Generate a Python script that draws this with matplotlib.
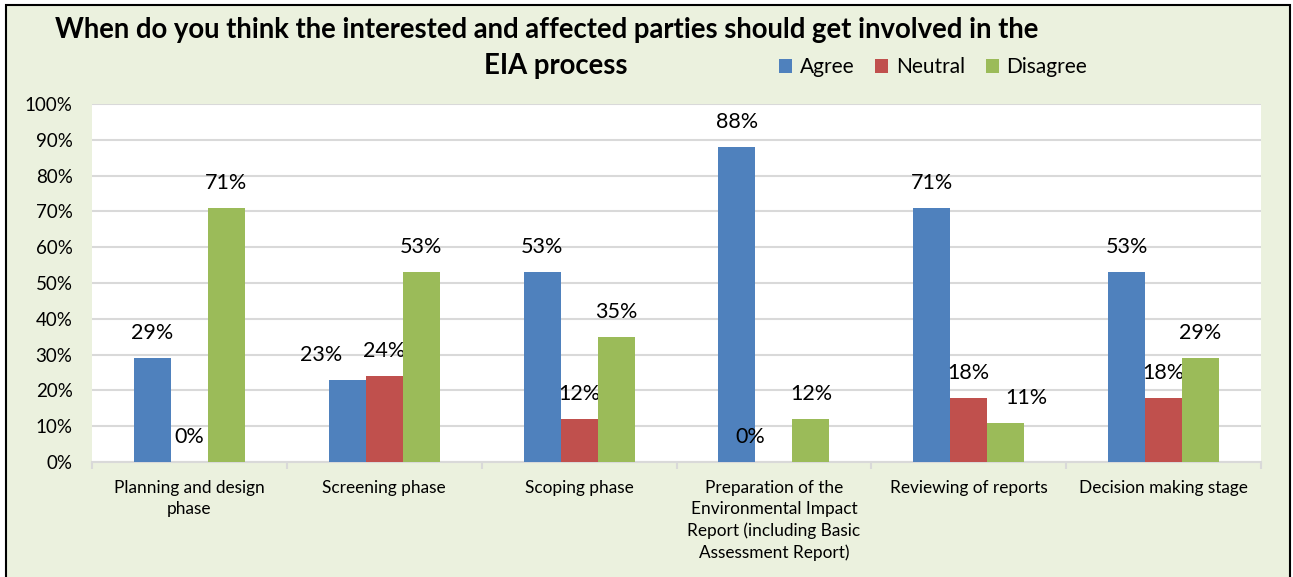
import matplotlib.pyplot as plt
import numpy as np
from matplotlib.patches import Rectangle

plt.rcParams['font.family'] = ['Lato', 'DejaVu Sans']

# survey results, percent of respondents
phases = [
    "Planning and design\nphase",
    "Screening phase",
    "Scoping phase",
    "Preparation of the\nEnvironmental Impact\nReport (including Basic\nAssessment Report)",
    "Reviewing of reports",
    "Decision making stage",
]
agree = [29, 23, 53, 88, 71, 53]
neutral = [0, 24, 12, 0, 18, 18]
disagree = [71, 53, 35, 12, 11, 29]
series_names = ["Agree", "Neutral", "Disagree"]
colors = ["#4F81BD", "#C0504D", "#9BBB59"]
yticks = list(range(0, 101, 10))

# labels nudged sideways (in points) so they don't collide
label_shift = {(1, 0): -19, (3, 1): -17, (4, 2): 15}

bg = "#EBF1DE"
fig = plt.figure(figsize=(12.93, 5.77), dpi=100)
fig.patch.set_facecolor("white")
fig.patches.append(Rectangle((6 / 1293, -0.01), 1284 / 1293, 1.01 - 5 / 577,
                             transform=fig.transFigure, facecolor=bg,
                             edgecolor="black", linewidth=1.5, zorder=-1))

ax = fig.add_axes([92 / 1293, 1 - 462 / 577, 1169 / 1293, 358 / 577])
ax.set_facecolor("white")

x = np.arange(len(phases))
w = 0.19
for i, (vals, name, c) in enumerate(zip([agree, neutral, disagree], series_names, colors)):
    bars = ax.bar(x + (i - 1) * w, vals, width=w, color=c, label=name, zorder=3)
    for j, (b, v) in enumerate(zip(bars, vals)):
        dx = label_shift.get((j, i), 0)
        ax.annotate(f"{v}%", (b.get_x() + b.get_width() / 2, v),
                    xytext=(dx, 18), textcoords="offset points",
                    ha="center", va="center", fontsize=15.5, color="black")

ax.set_xlim(-0.5, len(phases) - 0.5)
ax.set_ylim(0, 100)
ax.set_yticks(yticks)
ax.set_yticklabels([f"{t}%" for t in yticks], fontsize=13.5)
ax.yaxis.grid(True, color="#D9D9D9", linewidth=1.5, zorder=0)
ax.tick_params(axis="y", length=0, pad=14)

ax.set_xticks(x)
ax.set_xticklabels(phases, fontsize=12.4, linespacing=1.4)
ax.set_xticks(np.arange(len(phases) + 1) - 0.5, minor=True)
ax.tick_params(axis="x", which="major", length=0, pad=13)
ax.tick_params(axis="x", which="minor", length=5, color="#D9D9D9", width=1.5)

for s in ["left", "right", "top"]:
    ax.spines[s].set_visible(False)
ax.spines["bottom"].set_color("#D9D9D9")
ax.spines["bottom"].set_linewidth(1.5)

# two-line title, each line centred on its own
fig.text(547 / 1293, 1 - 30 / 577,
         "When do you think the interested and affected parties should get involved in the",
         ha="center", va="center", fontsize=19.8, fontweight="bold")
fig.text(556 / 1293, 1 - 66 / 577, "EIA process",
         ha="center", va="center", fontsize=19.8, fontweight="bold")

fig.legend(loc="center", bbox_to_anchor=(933 / 1293, 1 - 67 / 577), ncol=3,
           frameon=False, fontsize=15, handlelength=0.65, handleheight=0.65,
           handletextpad=0.35, columnspacing=1.0, borderpad=0.2)

fig.savefig("out.png", dpi=100, facecolor=fig.get_facecolor())
